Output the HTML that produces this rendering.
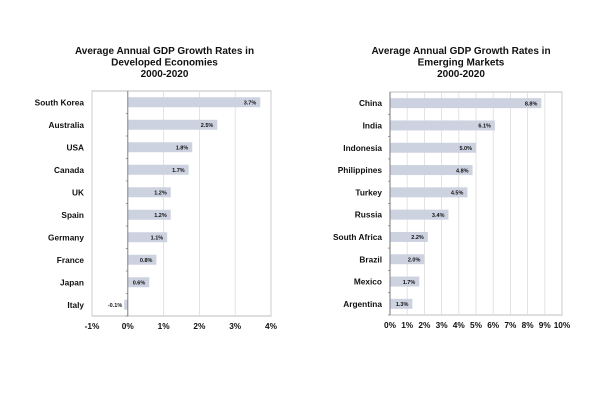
<!DOCTYPE html>
<html><head><meta charset="utf-8"><style>
body{margin:0;background:#fff;width:600px;height:400px;overflow:hidden;font-family:"Liberation Sans",Arial,sans-serif}
svg text{font-family:"Liberation Sans",Arial,sans-serif;font-weight:bold;fill:#111}
</style></head><body>
<svg id="s" width="600" height="400"></svg>
<script>
const devCats=["South Korea","Australia","USA","Canada","UK","Spain","Germany","France","Japan","Italy"];
const devVals=[3.7,2.5,1.8,1.7,1.2,1.2,1.1,0.8,0.6,-0.1];
const devTicks=[-1,0,1,2,3,4];
const emCats=["China","India","Indonesia","Philippines","Turkey","Russia","South Africa","Brazil","Mexico","Argentina"];
const emVals=[8.8,6.1,5.0,4.8,4.5,3.4,2.2,2.0,1.7,1.3];
const emTicks=[0,1,2,3,4,5,6,7,8,9,10];
const S=document.getElementById('s'),NS="http://www.w3.org/2000/svg";
function mk(t,a,txt){const e=document.createElementNS(NS,t);for(const k in a)e.setAttribute(k,a[k]);if(txt!=null)e.textContent=txt;S.appendChild(e);return e;}
function chart(cfg){
  const {x0,x1,y0,y1,min,max,cats,vals,ticks,title,id}=cfg;
  const xs=v=>x0+(v-min)/(max-min)*(x1-x0);
  const band=(y1-y0)/cats.length;
  const yc=i=>y0+band*(i+0.5);
  title.forEach((t,i)=>{const e=mk('text',{x:(x0+x1)/2-cfg.tOff,y:54+i*11.5,'text-anchor':'middle','font-size':'10'},t);
    
    });
  const box=mk('rect',{x:x0,y:y0,width:x1-x0,height:y1-y0,fill:'none',stroke:'#c8c8c8','stroke-width':1.2});
  
  
  ticks.forEach(t=>{
    const g=mk('line',{x1:xs(t),x2:xs(t),y1:y0,y2:y1,stroke:'#dcdcdc','stroke-width':0.8});
    
    
    const l=mk('text',{x:xs(t),y:y1+13,'text-anchor':'middle','font-size':'8.3'},t+'%');
    
    
  });
  cats.forEach((c,i)=>{
    const v=vals[i],a=xs(Math.min(0,v)),b=xs(Math.max(0,v));
    const r=mk('rect',{x:a,y:yc(i)-5,width:b-a,height:10,fill:'#cdd2e0'});
    
    
    const lab=v>=0?mk('text',{x:b-4,y:yc(i)+2.2,'text-anchor':'end','font-size':'5.5'},v.toFixed(1)+'%'):mk('text',{x:a-2,y:yc(i)+2.2,'text-anchor':'end','font-size':'5.5'},v.toFixed(1)+'%');
    
    
    const cl=mk('text',{x:x0-8,y:yc(i)+3,'text-anchor':'end','font-size':'8.3'},c);
    
    
    const tk=mk('line',{x1:xs(0)-2,x2:xs(0),y1:y0+band*(i+1),y2:y0+band*(i+1),stroke:'#888','stroke-width':0.8});
    
    
  });
  const ax=mk('line',{x1:xs(0),x2:xs(0),y1:y0,y2:y1,stroke:'#777','stroke-width':0.9});
  
  
}
chart({id:'developed',x0:92,x1:271,y0:91,y1:316,min:-1,max:4,cats:devCats,vals:devVals,ticks:devTicks,tOff:17,
  title:["Average Annual GDP Growth Rates in","Developed Economies","2000-2020"]});
chart({id:'emerging',x0:390,x1:562,y0:92,y1:315,min:0,max:10,cats:emCats,vals:emVals,ticks:emTicks,tOff:15,
  title:["Average Annual GDP Growth Rates in","Emerging Markets","2000-2020"]});
</script>
</body></html>
